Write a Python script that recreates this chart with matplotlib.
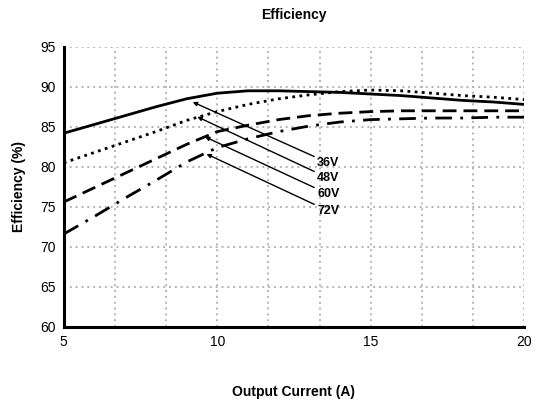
import matplotlib
matplotlib.use("Agg")
import matplotlib.pyplot as plt
import numpy as np

plt.rcParams['font.family'] = ['Liberation Sans', 'DejaVu Sans']

# output current (A)
current = [5, 6, 7, 8, 9, 10, 11, 12, 13, 14, 15, 16, 17, 18, 19, 20]

# efficiency (%) per input voltage
eff_36v = [84.2, 85.3, 86.4, 87.5, 88.5, 89.2, 89.5, 89.5, 89.4, 89.3, 89.1, 88.9, 88.6, 88.3, 88.1, 87.8]
eff_48v = [80.5, 81.8, 83.1, 84.4, 85.8, 86.9, 87.8, 88.5, 89.0, 89.4, 89.6, 89.5, 89.2, 88.9, 88.7, 88.4]
eff_60v = [75.6, 77.4, 79.2, 81.0, 82.8, 84.4, 85.2, 85.9, 86.4, 86.7, 86.9, 87.0, 87.0, 87.0, 87.0, 87.0]
eff_72v = [71.6, 73.8, 76.1, 78.3, 80.6, 82.4, 83.5, 84.4, 85.1, 85.6, 85.9, 86.0, 86.1, 86.1, 86.2, 86.2]

labels = ['36V', '48V', '60V', '72V']
# arrow tips (current, efficiency) and label positions
arrow_tips = [(9.2, 88.1), (9.35, 86.25), (9.6, 83.75), (9.65, 81.6)]
label_pos = [(13.25, 80.5), (13.25, 78.6), (13.25, 76.6), (13.25, 74.5)]

fig = plt.figure(figsize=(5.36, 4.07), dpi=100)
ax = fig.add_axes([0.119, 0.197, 0.859, 0.688])

ax.plot(current, eff_36v, color='black', lw=2.0, ls='-')
ax.plot(current, eff_48v, color='black', lw=2.0, ls=(0, (1, 1.6)))
ax.plot(current, eff_60v, color='black', lw=2.0, ls=(0, (5, 2.5)))
ax.plot(current, eff_72v, color='black', lw=2.0, ls=(0, (6, 3, 1, 3)))

for lab, tip, pos in zip(labels, arrow_tips, label_pos):
    ax.annotate(lab, xy=tip, xytext=pos, fontsize=9, fontweight='bold',
                va='center', ha='left',
                arrowprops=dict(arrowstyle='-|>', color='black', lw=1.0,
                                mutation_scale=6, shrinkA=0, shrinkB=0))

ax.set_xlim(5, 20)
ax.set_ylim(60, 95)
ax.set_xticks([5, 10, 15, 20])
ax.set_xticks(np.arange(5, 20.01, 5 / 3), minor=True)
ax.set_yticks(np.arange(60, 96, 5))
ax.grid(which='both', color='#b4b4b4', ls=(0, (1, 2)), lw=1.4)
ax.set_axisbelow(True)
ax.tick_params(which='both', length=0, labelsize=10, pad=6)

for s in ['top', 'right']:
    ax.spines[s].set_visible(False)
for s in ['left', 'bottom']:
    ax.spines[s].set_linewidth(2.2)

ax.set_title('Efficiency', fontsize=10, fontweight='bold', pad=20)
ax.set_xlabel('Output Current (A)', fontsize=10, fontweight='bold', labelpad=26)
ax.set_ylabel('Efficiency (%)', fontsize=10, fontweight='bold', labelpad=10)

fig.savefig('out.png', dpi=100)
